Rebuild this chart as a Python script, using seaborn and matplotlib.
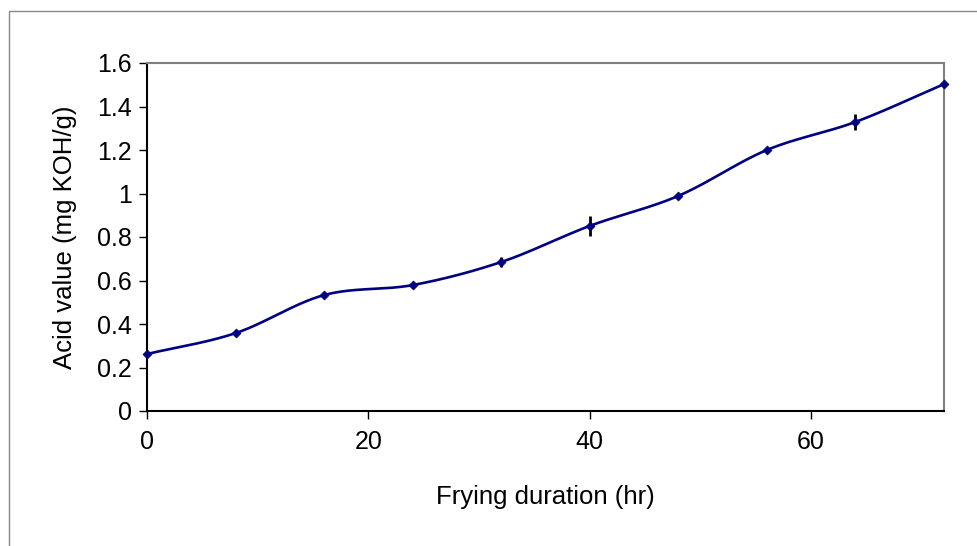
import numpy as np
import pandas as pd
import matplotlib
matplotlib.use("Agg")
import matplotlib.pyplot as plt
import seaborn as sns
from matplotlib.ticker import FuncFormatter
from matplotlib.patches import Rectangle

hours = [0, 8, 16, 24, 32, 40, 48, 56, 64, 72]
acid_value = [0.262, 0.358, 0.533, 0.579, 0.685, 0.851, 0.989, 1.200, 1.329, 1.503]
acid_err = [0.0, 0.012, 0.0, 0.012, 0.025, 0.045, 0.0, 0.0, 0.037, 0.0]
y_ticks = [0, 0.2, 0.4, 0.6, 0.8, 1.0, 1.2, 1.4, 1.6]
x_ticks = [0, 20, 40, 60]

sns.set_theme(style="white")
plt.rcParams['font.family'] = ['Liberation Sans', 'DejaVu Sans']

df = pd.DataFrame({"hours": hours, "acid": acid_value, "err": acid_err})

fig = plt.figure(figsize=(9.77, 5.46), dpi=100)
ax = fig.add_axes([147/977, 1-411/546, (944-147)/977, (411-63)/546])

# smoothed line (Catmull-Rom, like a spreadsheet's smoothed line)
def catmull_rom(x, y, n=30):
    x = np.asarray(x, float); y = np.asarray(y, float)
    px = np.concatenate([[2*x[0]-x[1]], x, [2*x[-1]-x[-2]]])
    py = np.concatenate([[2*y[0]-y[1]], y, [2*y[-1]-y[-2]]])
    xs, ys = [], []
    t = np.linspace(0, 1, n, endpoint=False)
    for i in range(1, len(px)-2):
        p0, p1, p2, p3 = (np.array([px[j], py[j]]) for j in (i-1, i, i+1, i+2))
        b1 = p1 + (p2 - p0) / 6
        b2 = p2 - (p3 - p1) / 6
        pts = ((1-t)**3)[:, None]*p1 + (3*(1-t)**2*t)[:, None]*b1 + (3*(1-t)*t**2)[:, None]*b2 + (t**3)[:, None]*p2
        xs.extend(pts[:, 0]); ys.extend(pts[:, 1])
    xs.append(x[-1]); ys.append(y[-1])
    return np.array(xs), np.array(ys)

sx, sy = catmull_rom(df["hours"], df["acid"])
sns.lineplot(x=sx, y=sy, ax=ax, color="#000080", linewidth=1.9, sort=False, zorder=3)
ax.errorbar(df["hours"], df["acid"], yerr=df["err"], fmt="none", ecolor="black",
            elinewidth=2.0, capsize=0, zorder=4)
sns.scatterplot(data=df, x="hours", y="acid", ax=ax, marker="D", s=22, color="#000080",
                edgecolor="#000080", zorder=5, clip_on=False)

ax.set_xlim(0, 72)
ax.set_ylim(0, 1.6)
ax.set_xticks(x_ticks)
ax.set_yticks(y_ticks)
ax.yaxis.set_major_formatter(FuncFormatter(lambda v, p: f"{v:g}"))
ax.tick_params(axis="both", direction="out", length=6, width=1, color="black",
               labelsize=18, labelcolor="black", left=True, bottom=True)
ax.tick_params(axis="x", pad=8)
ax.tick_params(axis="y", pad=5)
ax.set_xlabel("Frying duration (hr)", fontsize=18.5, color="black", labelpad=22)
ax.set_ylabel("Acid value (mg KOH/g)", fontsize=18.5, color="black", labelpad=14)

for s in ("left", "bottom"):
    ax.spines[s].set_color("black"); ax.spines[s].set_linewidth(1.5)
for s in ("top", "right"):
    ax.spines[s].set_color("#808080"); ax.spines[s].set_linewidth(1.5)
ax.grid(False)

fig.patches.append(Rectangle((9/977, -0.1), 1.2, 1 - 11/546 + 0.1, transform=fig.transFigure,
                             fill=False, edgecolor="#888888", linewidth=1.0))

fig.savefig("out.png", dpi=100)
